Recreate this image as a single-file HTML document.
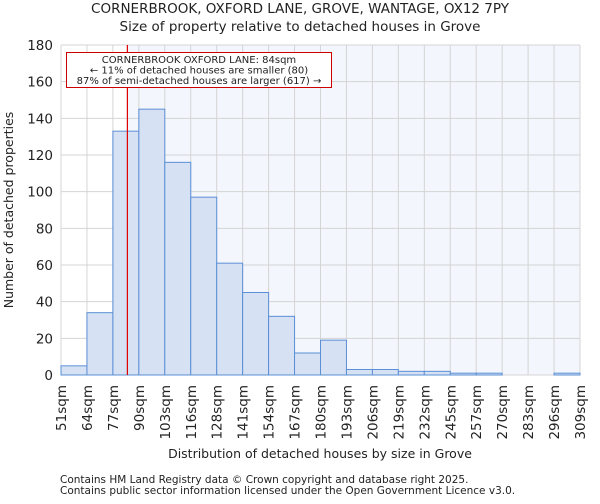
<!DOCTYPE html>
<html><head><meta charset="utf-8"><style>
body{margin:0;background:#fff;font-family:"DejaVu Sans","Liberation Sans",sans-serif}
svg text{font-family:"DejaVu Sans","Liberation Sans",sans-serif;fill:#222}
</style></head><body>
<svg id="chart" width="600" height="500" xmlns="http://www.w3.org/2000/svg">
<text x="300" y="13" text-anchor="middle" font-size="13.5">CORNERBROOK, OXFORD LANE, GROVE, WANTAGE, OX12 7PY</text>
<text x="300" y="31" text-anchor="middle" font-size="13.5">Size of property relative to detached houses in Grove</text>
<g id="plot"></g>
<text x="320" y="458" text-anchor="middle" font-size="12.5">Distribution of detached houses by size in Grove</text>
<text transform="translate(13,210) rotate(-90)" text-anchor="middle" font-size="12.5">Number of detached properties</text>
<text x="60" y="483" font-size="10.5" fill="#444">Contains HM Land Registry data © Crown copyright and database right 2025.</text>
<text x="60" y="494" font-size="10.5" fill="#444">Contains public sector information licensed under the Open Government Licence v3.0.</text>
</svg>
<script>
const categories=["51sqm","64sqm","77sqm","90sqm","103sqm","116sqm","128sqm","141sqm","154sqm","167sqm","180sqm","193sqm","206sqm","219sqm","232sqm","245sqm","257sqm","270sqm","283sqm","296sqm","309sqm"];
const counts=[5,34,133,145,116,97,61,45,32,12,19,3,3,2,2,1,1,0,0,1];
const yTicks=[0,20,40,60,80,100,120,140,160,180];
const subjectSize=84;
const binStart=51, binWidth=12.9;
const ns="http://www.w3.org/2000/svg";
const g=document.getElementById('plot');
const L=61,R=580,T=45,B=375,yMax=180;
const bw=(R-L)/counts.length;
const y=v=>B-(v/yMax)*(B-T);
const xi=i=>L+i*bw;
const xs=s=>L+(s-binStart)/binWidth*bw;
function mk(t,a){const e=document.createElementNS(ns,t);for(const k in a)e.setAttribute(k,a[k]);g.appendChild(e);return e;}
const rx=xs(subjectSize);
let bg=mk('rect',{x:rx,y:T,width:R-rx,height:B-T,fill:'#f3f6fc'});


yTicks.forEach(t=>{
 let l=mk('line',{x1:L,x2:R,y1:y(t),y2:y(t),stroke:'#d4d4d4','stroke-width':1});
 
 
 let tx=mk('text',{x:L-8,y:y(t)+5,'text-anchor':'end','font-size':13.5});
 tx.textContent=t;
 
 
});
categories.forEach((c,i)=>{
 let l=mk('line',{x1:xi(i),x2:xi(i),y1:T,y2:B,stroke:'#d4d4d4','stroke-width':1});
 
 
 let tx=mk('text',{transform:`translate(${xi(i)+5},385) rotate(-90)`,'text-anchor':'end','font-size':13.5});
 tx.textContent=c;
 
 
});
counts.forEach((v,i)=>{
 let r=mk('rect',{x:xi(i),y:y(v),width:bw,height:B-y(v),fill:'#d6e1f3',stroke:'#5b8fd6','stroke-width':1});
 
 
});
let rl=mk('line',{x1:rx,x2:rx,y1:T,y2:B,stroke:'#d00','stroke-width':1.2});


let ab=mk('rect',{x:66.5,y:52.5,width:265,height:35,fill:'#fff',stroke:'#c00','stroke-width':1});


["CORNERBROOK OXFORD LANE: 84sqm","← 11% of detached houses are smaller (80)","87% of semi-detached houses are larger (617) →"].forEach((s,i)=>{
 let t=mk('text',{x:199,y:63+i*10.5,'text-anchor':'middle','font-size':10});
 t.textContent=s;
 
 
});
</script>
</body></html>
